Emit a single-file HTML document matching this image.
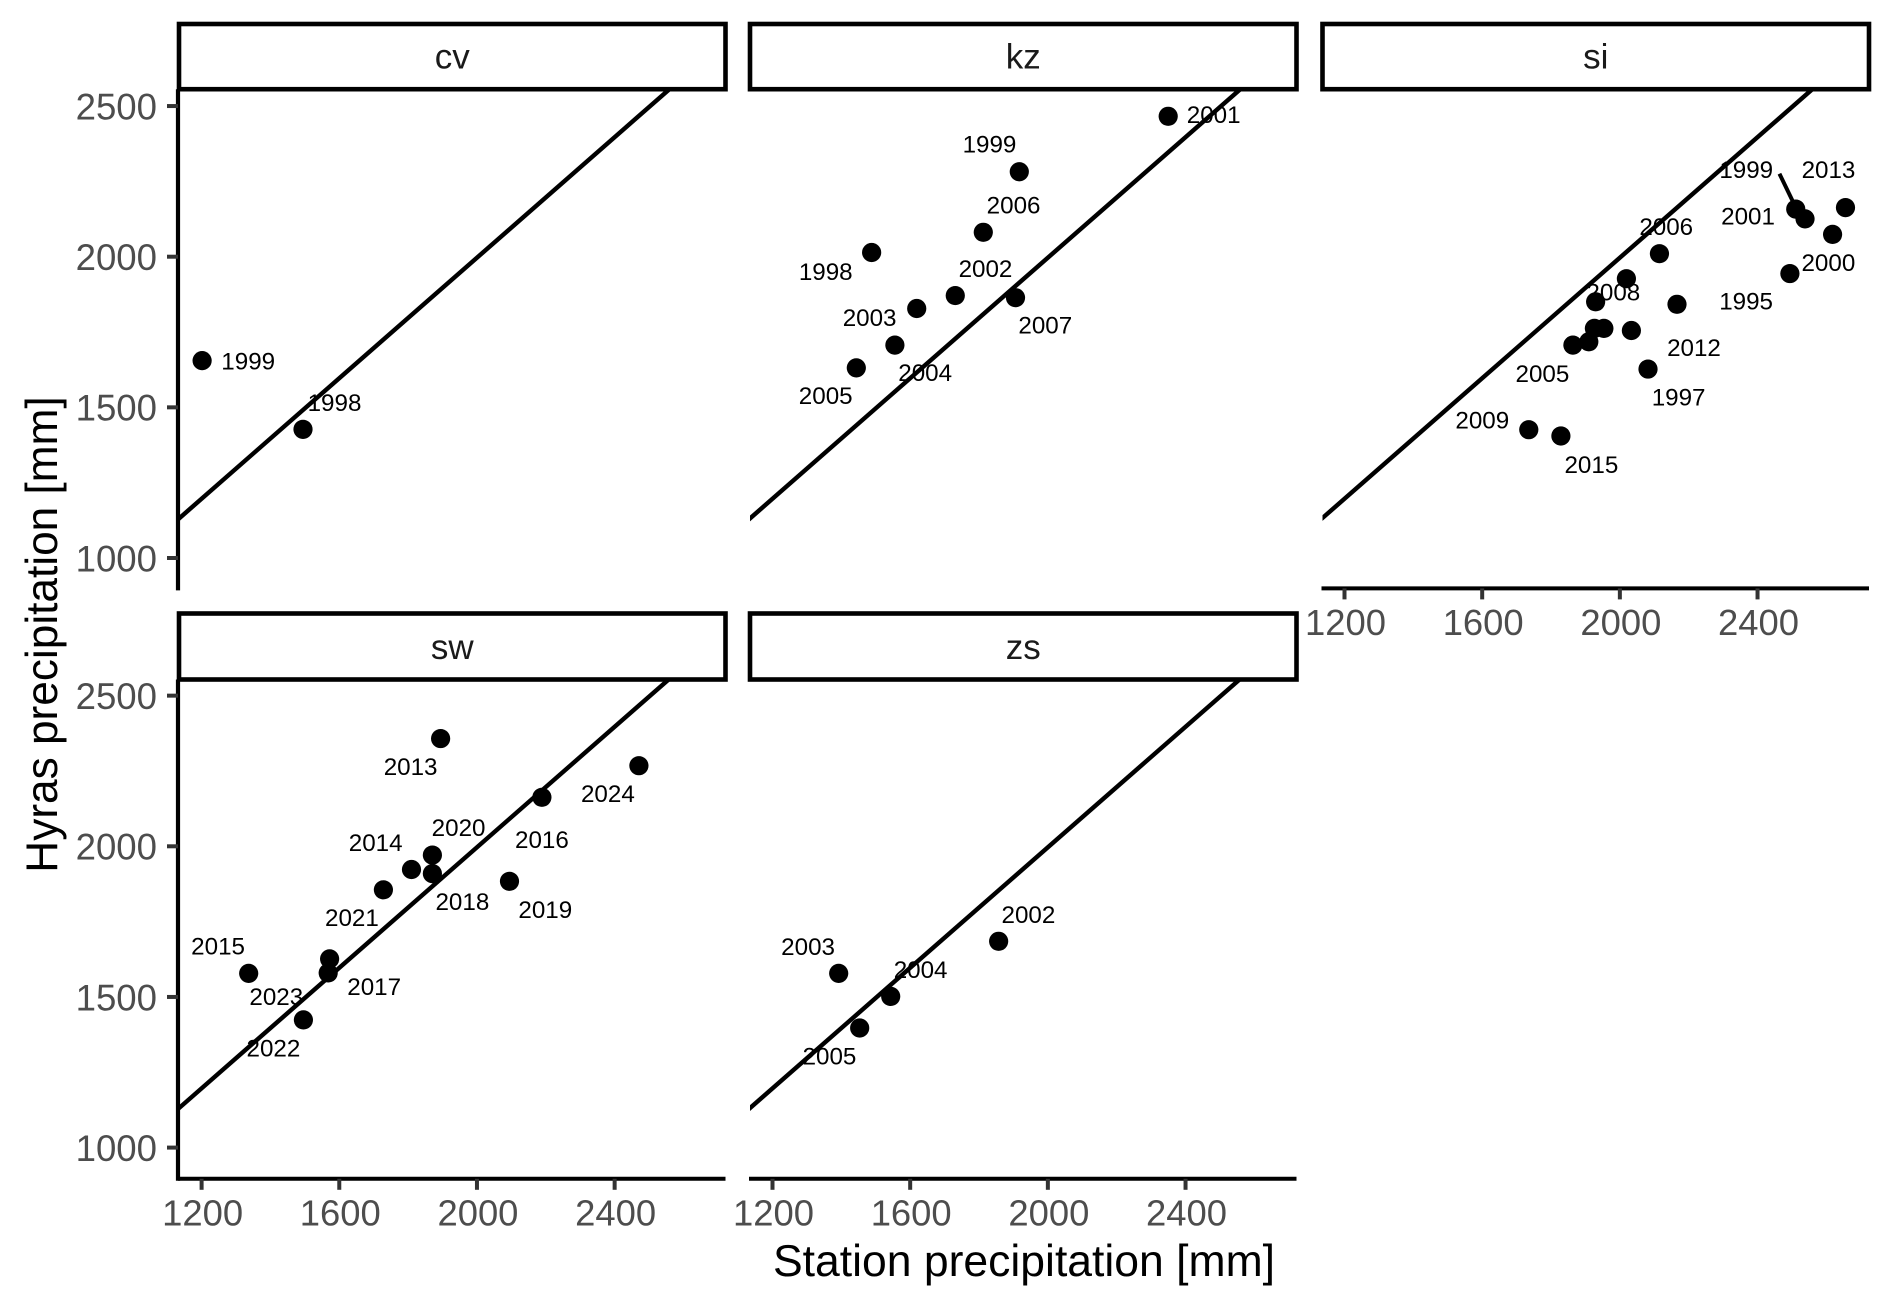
<!DOCTYPE html>
<html lang="en">
<head>
<meta charset="utf-8">
<title>Station vs Hyras precipitation</title>
<style>
html,body{margin:0;padding:0;background:#fff;}
svg{display:block;font-family:"Liberation Sans",Arial,sans-serif;}
</style>
</head>
<body>
<svg id="chart" xmlns="http://www.w3.org/2000/svg" width="1892" height="1308" viewBox="0 0 1892 1308">
  <rect x="0" y="0" width="1892" height="1308" fill="#ffffff"/>
  <g id="panels"></g>
  <text transform="translate(57,634.5) rotate(-90)" text-anchor="middle" font-size="44.2" fill="#000">Hyras precipitation [mm]</text>
  <text x="1024" y="1276" text-anchor="middle" font-size="44.5" fill="#000">Station precipitation [mm]</text>
</svg>
<script>
// ---- data (mm) ----
const xTicks = [1200, 1600, 2000, 2400];
const yTicks = [1000, 1500, 2000, 2500];

const cvYears = ['1999', '1998'];
const cvStation = [1201.5, 1494.6];
const cvHyras = [1655, 1427];

const kzYears = ['2001', '1999', '2006', '1998', '2002', '2007', '2003', '2004', '2005'];
const kzStation = [2349.6, 1917, 1812.4, 1488, 1731, 1906, 1619, 1555.6, 1443.5];
const kzHyras = [2466, 2282, 2081, 2014, 1871, 1864, 1828, 1706.6, 1631];

const siYears = ['2013', '1999', '2001', '2000', '1995', '2006', '', '2008', '2012', '', '', '', '', '2005', '1997', '2009', '2015'];
const siStation = [2655.5, 2511, 2538, 2618, 2494, 2115, 2019, 1929.6, 2166, 1926, 1953.6, 2033.5, 1909.8, 1863.6, 2081.8, 1735.4, 1828.7];
const siHyras = [2163, 2158, 2125.5, 2074, 1944, 2010, 1927, 1850.3, 1842, 1762, 1762, 1755, 1717.6, 1706.6, 1627, 1425.8, 1405];

const swYears = ['2013', '2024', '2016', '2020', '2014', '2018', '2019', '2021', '2023', '2017', '2015', '2022'];
const swStation = [1894.4, 2470.5, 2188.7, 1870.5, 1809.8, 1870.5, 2094.5, 1728.2, 1571.9, 1567.8, 1336.8, 1495.8];
const swHyras = [2357.5, 2267.5, 2162.6, 1970.8, 1923, 1909.4, 1883.8, 1855.6, 1626.3, 1579.8, 1578.2, 1423.8];

const zsYears = ['2002', '2003', '2004', '2005'];
const zsStation = [1857, 1392.3, 1543.4, 1453.3];
const zsHyras = [1684.7, 1578.2, 1501.8, 1397];

// ---- layout (not data): scales, frames, label nudges relative to each point ----
const X_SCALE = 0.3442, Y_SCALE = 0.3013;
const labelNudge = {
  cv: {'1999':[46.1,0.3],'1998':[31.5,-26.5]},
  kz: {'2001':[45.5,-1.7],'1999':[-29.8,-27.7],'2006':[30.3,-27.3],'1998':[-45.9,19],'2002':[30.2,-27],'2007':[29.8,27.3],'2003':[-47.1,9.3],'2004':[30.3,27.4],'2005':[-30.6,27.8]},
  si: {'2013':[-17,-37.9],'1999':[-49.5,-39.6],'2001':[-57,-2.6],'2000':[-4.2,28.2],'1995':[-43.8,27.3],'2006':[6.8,-26.9],'2008':[17.7,-9.7],'2012':[17,43.3],'2005':[-30.5,28.6],'1997':[30.6,28.2],'2009':[-46.5,-9.7],'2015':[30.5,28.6]},
  sw: {'2013':[-30,28],'2024':[-31,28],'2016':[0,42.4],'2020':[26.2,-27.6],'2014':[-35.8,-27.1],'2018':[30,28],'2019':[35.8,28.4],'2021':[-31.5,28],'2023':[-53.3,37.5],'2017':[46,13.6],'2015':[-30.6,-27.1],'2022':[-30,28.4]},
  zs: {'2002':[29.8,-26.6],'2003':[-30.6,-26.7],'2004':[29.9,-26.7],'2005':[-30.2,28]}
};
const panels = [
  {id:'cv', years:cvYears, xs:cvStation, ys:cvHyras, left:179,   right:725.5,  top:89.2,  stripTop:24,    bottom:588.4,  x1200:201.6,  y1000:558,    showY:true,  showX:false},
  {id:'kz', years:kzYears, xs:kzStation, ys:kzHyras, left:750,   right:1296.5, top:89.2,  stripTop:24,    bottom:588.4,  x1200:772.5,  y1000:558,    showY:false, showX:false},
  {id:'si', years:siYears, xs:siStation, ys:siHyras, left:1322.5,right:1869,   top:89.2,  stripTop:24,    bottom:588.4,  x1200:1344.5, y1000:558,    showY:false, showX:true},
  {id:'sw', years:swYears, xs:swStation, ys:swHyras, left:179,   right:725.5,  top:679.5, stripTop:613.5, bottom:1178.8, x1200:201.6,  y1000:1147.6, showY:true,  showX:true},
  {id:'zs', years:zsYears, xs:zsStation, ys:zsHyras, left:750,   right:1296.5, top:679.5, stripTop:613.5, bottom:1178.8, x1200:772.5,  y1000:1147.6, showY:false, showX:true}
];
const NS = 'http://www.w3.org/2000/svg';
function mk(tag, parent, attrs) {
  const el = document.createElementNS(NS, tag);
  for (const k in attrs) el.setAttribute(k, attrs[k]);
  parent.appendChild(el);
  return el;
}
const root = document.getElementById('panels');
const defs = mk('defs', root, {});

panels.forEach(function (p) {
  const sx = function (v) { return p.x1200 + (v - 1200) * X_SCALE; };
  const sy = function (v) { return p.y1000 - (v - 1000) * Y_SCALE; };

  const clip = mk('clipPath', defs, {id: 'clip-' + p.id});
  mk('rect', clip, {x: p.left, y: p.top, width: p.right - p.left, height: p.bottom - p.top});

  const g = mk('g', root, {});
  
  

  // year labels sit beneath the line and points
  p.years.forEach(function (yr, i) {
    if (!yr) return;
    const n = labelNudge[p.id][yr];
    const t = mk('text', g, {x: sx(p.xs[i]) + n[0], y: sy(p.ys[i]) + n[1] + 8.4, 'text-anchor': 'middle', 'font-size': 24.2, fill: '#000'});
    t.textContent = yr;
    
    
  });

  // leader line for si 1999
  if (p.id === 'si') {
    const i = p.years.indexOf('1999');
    const seg = mk('line', g, {x1: sx(p.xs[i]) - 16.3, y1: sy(p.ys[i]) - 35.4, x2: sx(p.xs[i]) - 2.7, y2: sy(p.ys[i]) - 7.2, stroke: '#000', 'stroke-width': 4});
    
    
  }

  // 1:1 reference line
  const lo = 1000, hi = 3000;
  const ref = mk('line', g, {x1: sx(lo), y1: sy(lo) + 1, x2: sx(hi), y2: sy(hi) + 1, stroke: '#000', 'stroke-width': 4.4, 'clip-path': 'url(#clip-' + p.id + ')'});
  
  

  // points
  p.xs.forEach(function (v, i) {
    const c = mk('circle', g, {cx: sx(v), cy: sy(p.ys[i]), r: 9.6, fill: '#000'});
    
    
  });

  // y axis
  if (p.showY) {
    const ax = mk('line', g, {x1: p.left - 1, y1: p.top, x2: p.left - 1, y2: p.bottom + 2, stroke: '#000', 'stroke-width': 4.2});
    
    
    yTicks.forEach(function (v) {
      const tk = mk('line', g, {x1: p.left - 12, y1: sy(v), x2: p.left - 1, y2: sy(v), stroke: '#333333', 'stroke-width': 4});
      
      
      const lb = mk('text', g, {x: p.left - 22, y: sy(v) + 13.3, 'text-anchor': 'end', 'font-size': 36.6, fill: '#4d4d4d'});
      lb.textContent = v;
      
      
    });
  }

  // x axis
  if (p.showX) {
    const ax = mk('line', g, {x1: p.left - 1, y1: p.bottom, x2: p.right, y2: p.bottom, stroke: '#000', 'stroke-width': 4});
    
    
    xTicks.forEach(function (v) {
      const tk = mk('line', g, {x1: sx(v), y1: p.bottom, x2: sx(v), y2: p.bottom + 11, stroke: '#333333', 'stroke-width': 4});
      
      
      const lb = mk('text', g, {x: sx(v) + 1, y: p.bottom + 46.5, 'text-anchor': 'middle', 'font-size': 36.4, fill: '#4d4d4d'});
      lb.textContent = v;
      
      
    });
  }

  // facet strip
  const strip = mk('rect', g, {x: p.left, y: p.stripTop, width: p.right - p.left, height: p.top - p.stripTop, fill: '#ffffff', stroke: '#000', 'stroke-width': 4.6});
  
  
  const st = mk('text', g, {x: (p.left + p.right) / 2, y: p.top - 20.5, 'text-anchor': 'middle', 'font-size': 35, fill: '#1a1a1a'});
  st.textContent = p.id;
  
  
});
</script>
</body>
</html>
